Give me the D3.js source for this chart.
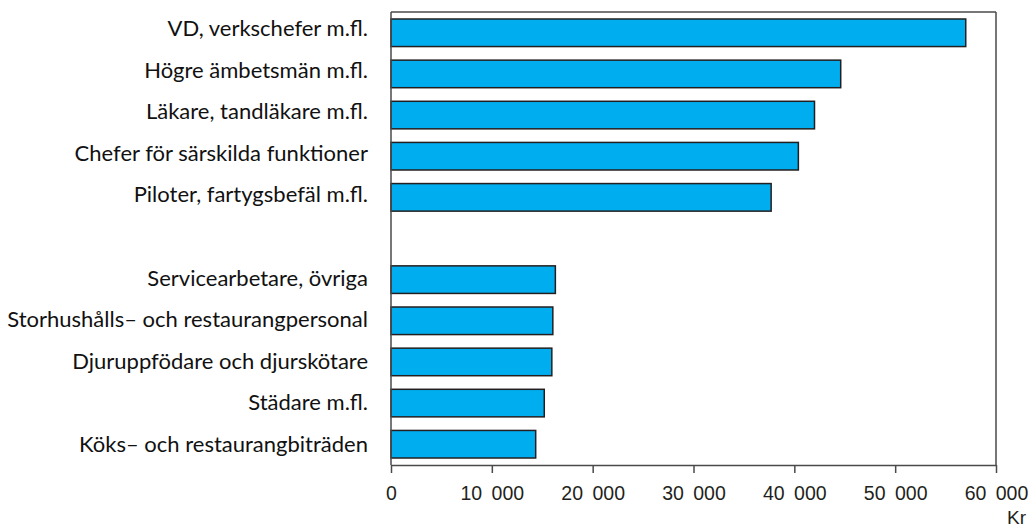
<!DOCTYPE html>
<html><head><meta charset="utf-8">
<script src="https://cdn.jsdelivr.net/npm/d3@7"></script>
<style>
html,body{margin:0;padding:0;background:#fff;}
svg{display:block;}
</style></head>
<body><svg id="chart" width="1031" height="529"></svg>
<script>
const categories = ["VD, verkschefer m.fl.","Högre ämbetsmän m.fl.","Läkare, tandläkare m.fl.","Chefer för särskilda funktioner","Piloter, fartygsbefäl m.fl.","","Servicearbetare, övriga","Storhushålls– och restaurangpersonal","Djuruppfödare och djurskötare","Städare m.fl.","Köks– och restaurangbiträden"];
const values = [57000, 44600, 42000, 40400, 37700, null, 16300, 16050, 15950, 15200, 14350];
const tickValues = [0, 10000, 20000, 30000, 40000, 50000, 60000];
const unitLabel = "Kr";

(function(){
const svg = d3.select("#chart");
const mLeft = 391, mRight = 996, mTop = 12, mBottom = 465;
const x = d3.scaleLinear().domain([0, 60000]).range([mLeft, mRight]);
const y = d3.scaleBand().domain(categories.map((c,i)=>i)).range([mTop, mBottom]).paddingInner(0.33).paddingOuter(0.17);
const yLab = d3.scalePoint().domain(categories.map((c,i)=>i)).range([36, 452]);

const data = categories.map((c,i)=>({c, v: values[i], i}));

svg.append("line").attr("x1", mLeft).attr("x2", mRight).attr("y1", mTop).attr("y2", mTop).attr("stroke", "#4a4a4a").attr("stroke-width", 1.5);
svg.append("line").attr("x1", mRight).attr("x2", mRight).attr("y1", mTop).attr("y2", mBottom).attr("stroke", "#4a4a4a").attr("stroke-width", 1.5);

svg.append("g").selectAll("rect").data(data.filter(d=>d.v!=null)).join("rect")
  .attr("x", x(0)).attr("y", d=>y(d.i)).attr("width", d=>x(d.v)-x(0)).attr("height", y.bandwidth())
  .attr("fill", "#00adef").attr("stroke", "#231f20").attr("stroke-width", 1.5);

const fmt = v => d3.format(",")(v).replace(/,/g, " ");
const xAxis = svg.append("g").attr("transform", `translate(0,${mBottom})`)
  .call(d3.axisBottom(x).tickValues(tickValues).tickFormat(fmt).tickSize(8).tickSizeOuter(0));
xAxis.select(".domain").attr("stroke", "#4a4a4a").attr("stroke-width", 1.5);
xAxis.selectAll(".tick line").attr("stroke", "#4a4a4a").attr("stroke-width", 1.5);
xAxis.selectAll(".tick text").attr("font-family", "'Liberation Sans', Arial, sans-serif").attr("font-size", 19.5).attr("fill", "#231f20").attr("dy", "1.23em").attr("word-spacing", "4px");

svg.append("line").attr("x1", mLeft).attr("x2", mLeft).attr("y1", mTop).attr("y2", mBottom).attr("stroke", "#4a4a4a").attr("stroke-width", 1.5);

svg.append("g").selectAll("text").data(data.filter(d=>d.c!=="")).join("text")
  .attr("x", 368).attr("y", d=>yLab(d.i))
  .attr("text-anchor", "end").attr("font-family", "Lato, sans-serif").attr("font-size", 22)
  .attr("fill", "#111").text(d=>d.c);

svg.append("text").attr("x", 1026).attr("y", 524).attr("text-anchor", "end")
  .attr("font-family", "'Liberation Sans', Arial, sans-serif").attr("font-size", 19).attr("fill", "#231f20").text(unitLabel);
})();
</script></body></html>
